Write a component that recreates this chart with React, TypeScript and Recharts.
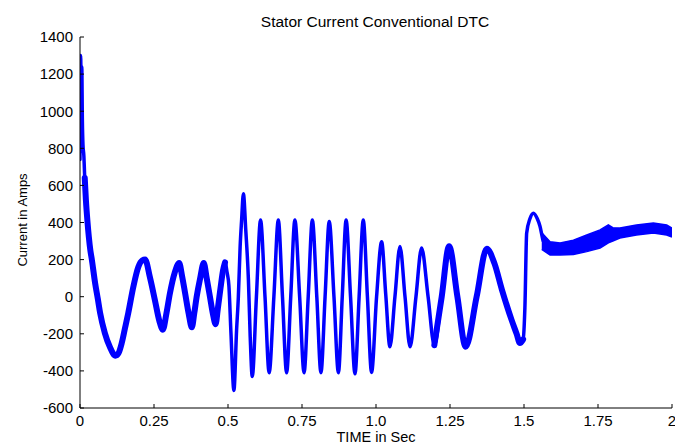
import { Area, ComposedChart, Line, XAxis, YAxis } from "recharts";

// time in seconds
const time = [
  0, 0.002, 0.004, 0.006, 0.008, 0.01, 0.013, 0.016, 0.02, 0.025,
  0.03, 0.035, 0.04, 0.051, 0.06, 0.068, 0.084, 0.101, 0.12, 0.13,
  0.141, 0.152, 0.163, 0.18, 0.197, 0.21, 0.22, 0.236, 0.253, 0.268,
  0.28, 0.292, 0.304, 0.32, 0.335, 0.345, 0.355, 0.367, 0.378, 0.386,
  0.394, 0.406, 0.418, 0.428, 0.439, 0.45, 0.458, 0.466, 0.475, 0.483,
  0.49, 0.497, 0.503, 0.51, 0.52, 0.529, 0.535, 0.541, 0.546, 0.552,
  0.56, 0.569, 0.575, 0.582, 0.596, 0.61, 0.625, 0.639, 0.655, 0.67,
  0.684, 0.698, 0.712, 0.726, 0.742, 0.757, 0.771, 0.785, 0.8, 0.814,
  0.828, 0.842, 0.858, 0.873, 0.886, 0.899, 0.914, 0.929, 0.943, 0.957,
  0.971, 0.985, 1.002, 1.019, 1.033, 1.047, 1.064, 1.081, 1.098, 1.115,
  1.135, 1.154, 1.176, 1.197, 1.222, 1.247, 1.275, 1.303, 1.34, 1.374,
  1.4, 1.425, 1.458, 1.475, 1.486, 1.497, 1.503, 1.509, 1.52, 1.532,
  1.545, 1.554, 1.565, 1.578, 1.588, 1.622, 1.667, 1.712, 1.757, 1.785,
  1.802, 1.824, 1.88, 1.937, 1.982, 2.0,
];

// stator current (A)
const current = [
  740, 1300, 1180, 1240, 950, 820, 760, 640, 520, 410,
  320, 250, 200, 74, -10, -88, -196, -271, -318, -305,
  -250, -170, -88, 52, 160, 195, 200, 106, -18, -130,
  -178, -90, 20, 130, 182, 110, 20, -90, -165, -90,
  -2, 100, 182, 100, 0, -100, -148, -60, 50, 140,
  185, 130, 60, -196, -505, -180, 0, 270, 413, 555,
  360, 90, -215, -430, 0, 413, 0, -410, 0, 413,
  0, -410, 0, 413, 0, -410, 0, 413, 0, -410,
  0, 405, 0, -410, 0, 413, 0, -415, 0, 413,
  0, -408, 0, 296, 10, -270, 0, 270, 0, -270,
  0, 262, 0, -262, 0, 272, 0, -270, 0, 258,
  180, 40, -125, -200, -250, -230, -60, 343, 420, 450,
  420, 380, 300, 270, 262, 258, 265, 288, 311, 338,
  335, 343, 360, 370, 360, 346,
];

// ripple envelope after the step (t > 1.55 s)
const bandTime = [1.56, 1.588, 1.622, 1.667, 1.712, 1.757, 1.785, 1.8, 1.824, 1.88, 1.937, 1.982, 2.0];
const bandLow = [255, 225, 225, 228, 243, 262, 290, 300, 316, 333, 343, 333, 322];
const bandHigh = [345, 296, 290, 305, 333, 360, 387, 372, 370, 387, 397, 387, 370];

// stretches where the switching ripple makes the trace a wide band
const noisySpans = [
  [0.016, 0.49],
  [1.19, 1.497],
];

const xTicks = [0, 0.25, 0.5, 0.75, 1, 1.25, 1.5, 1.75, 2];
const xTickLabels = ["0", "0.25", "0.5", "0.75", "1.0", "1.25", "1.5", "1.75", "2"];
const yTicks = [-600, -400, -200, 0, 200, 400, 600, 800, 1000, 1200, 1400];

const inNoisy = (t: number) => noisySpans.some(([a, b]) => t >= a && t <= b);

const lineData = time.map((t, i) => ({
  t,
  current: current[i],
  noisy: inNoisy(t) ? current[i] : null,
}));
const bandData = bandTime.map((t, i) => ({ t, ripple: [bandLow[i], bandHigh[i]] }));

const font = '"Liberation Sans", Arial, Helvetica, sans-serif';
const blue = "#0000ff";

export default function App() {
  return (
    <div
      style={{
        position: "absolute",
        left: 0,
        top: 0,
        width: 675,
        height: 444,
        background: "#fff",
        fontFamily: font,
      }}
    >
      <ComposedChart width={675} height={444} margin={{ top: 37, right: 3, bottom: 0, left: 0 }}>
        <XAxis
          type="number"
          dataKey="t"
          domain={[0, 2]}
          ticks={xTicks}
          allowDataOverflow
          height={36}
          tickFormatter={(v: number) => xTickLabels[xTicks.indexOf(v)] ?? String(v)}
          axisLine={{ stroke: "#000" }}
          tickLine={{ stroke: "#000" }}
          tickSize={-4}
          tickMargin={11}
          tick={{ fill: "#000", fontSize: 15, fontFamily: font }}
          interval={0}
        />
        <YAxis
          type="number"
          domain={[-600, 1400]}
          ticks={yTicks}
          allowDataOverflow
          width={80}
          axisLine={{ stroke: "#000" }}
          tickLine={{ stroke: "#000" }}
          tickSize={-4}
          tickMargin={11}
          tick={{ fill: "#000", fontSize: 15, fontFamily: font }}
          interval={0}
        />
        <Area
          data={bandData}
          dataKey="ripple"
          type="linear"
          stroke={blue}
          strokeWidth={1.5}
          fill={blue}
          fillOpacity={1}
          isAnimationActive={false}
        />
        <Line
          data={lineData}
          dataKey="noisy"
          type="monotone"
          stroke={blue}
          strokeWidth={6}
          strokeLinecap="round"
          dot={false}
          connectNulls={false}
          isAnimationActive={false}
        />
        <Line
          data={lineData}
          dataKey="current"
          type="monotone"
          stroke={blue}
          strokeWidth={3.5}
          strokeLinecap="round"
          dot={false}
          isAnimationActive={false}
        />
      </ComposedChart>
      <svg
        width={675}
        height={444}
        style={{ position: "absolute", left: 0, top: 0, pointerEvents: "none" }}
        fontFamily={font}
      >
        <text x={375} y={27} textAnchor="middle" fontSize={15.5} fill="#000">
          Stator Current Conventional DTC
        </text>
        <text x={376} y={442} textAnchor="middle" fontSize={14.5} fill="#000">
          TIME in Sec
        </text>
        <text
          x={0}
          y={0}
          transform="translate(27 220) rotate(-90)"
          textAnchor="middle"
          fontSize={13}
          fill="#000"
        >
          Current in Amps
        </text>
      </svg>
    </div>
  );
}
